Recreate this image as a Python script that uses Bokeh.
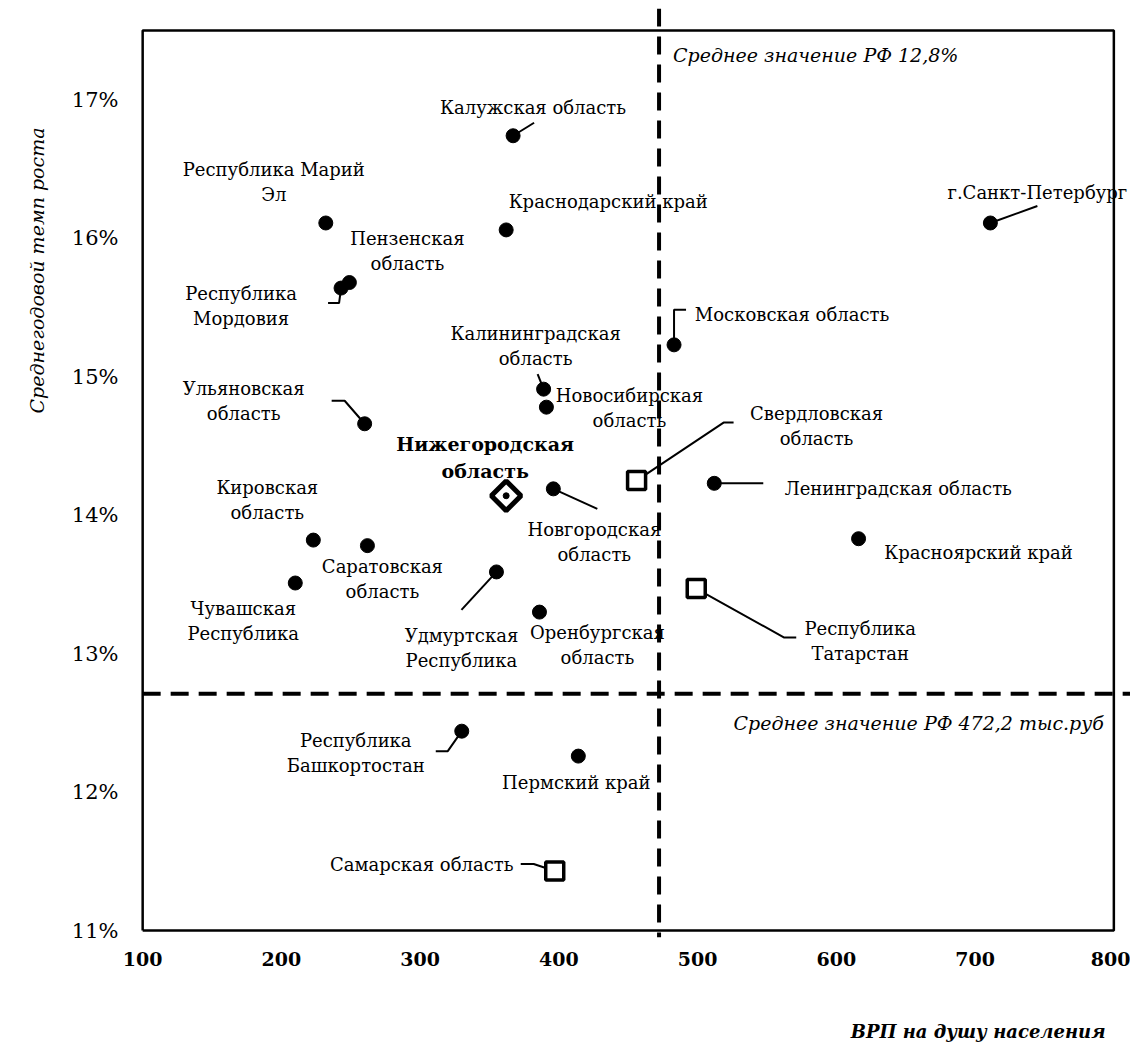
import numpy as np
from bokeh.plotting import figure
from bokeh.models import (ColumnDataSource, LabelSet, Label, Range1d, FixedTicker,
                          PrintfTickFormatter, Span, Title)
from bokeh.core.properties import value
from bokeh.embed import file_html
from bokeh.resources import INLINE

# ---------------- data ----------------
regions = [
    "Республика Марий Эл", "Пензенская область", "Республика Мордовия",
    "Калужская область", "Краснодарский край", "Московская область",
    "Калининградская область", "Новосибирская область", "Нижегородская область",
    "Новгородская область", "Свердловская область", "Ленинградская область",
    "Красноярский край", "Республика Татарстан", "Удмуртская Республика",
    "Оренбургская область", "Республика Башкортостан", "Пермский край",
    "Самарская область", "г.Санкт-Петербург", "Ульяновская область",
    "Кировская область", "Саратовская область", "Чувашская Республика",
]
label_text = [
    "Республика Марий\nЭл", "Пензенская\nобласть", "Республика\nМордовия",
    "Калужская область", "Краснодарский край", "Московская область",
    "Калининградская\nобласть", "Новосибирская\nобласть", "Нижегородская\nобласть",
    "Новгородская\nобласть", "Свердловская\nобласть", "Ленинградская область",
    "Красноярский край", "Республика\nТатарстан", "Удмуртская\nРеспублика",
    "Оренбургская\nобласть", "Республика\nБашкортостан", "Пермский край",
    "Самарская область", "г.Санкт-Петербург", "Ульяновская\nобласть",
    "Кировская\nобласть", "Саратовская\nобласть", "Чувашская\nРеспублика",
]
grp_per_capita = [232, 249, 243, 367, 362, 483, 389, 391, 362, 396, 456, 512,
                  616, 499, 355, 386, 330, 414, 397, 711, 260, 223, 262, 210]
growth_pct = [16.11, 15.68, 15.64, 16.74, 16.06, 15.23, 14.91, 14.78, 14.14,
              14.19, 14.25, 14.23, 13.83, 13.47, 13.59, 13.30, 12.44, 12.26,
              11.43, 16.11, 14.66, 13.82, 13.78, 13.51]
square_regions = ["Свердловская область", "Республика Татарстан", "Самарская область"]
focus_region = "Нижегородская область"

mean_grp = 472.2
mean_growth_line = 12.71
mean_grp_text = "Среднее значение РФ 12,8%"
mean_growth_text = "Среднее значение РФ 472,2 тыс.руб"

x_ticks = [100, 200, 300, 400, 500, 600, 700, 800]
y_ticks = [11, 12, 13, 14, 15, 16, 17]
x_title = "ВРП на душу населения"
y_title = "Среднегодовой темп роста"

# ---------------- layout (pixel offsets of labels / leader lines) ----------------
label_offset = {  # (dx, dy) of label block centre in pixels, dy positive = downwards
    "Республика Марий Эл": (-52, -41), "Пензенская область": (58, -32),
    "Республика Мордовия": (-100, 18), "Калужская область": (20, -28),
    "Краснодарский край": (102, -28), "Московская область": (118, -30),
    "Калининградская область": (-8, -43), "Новосибирская область": (83, 1),
    "Нижегородская область": (-21, -38), "Новгородская область": (41, 53),
    "Свердловская область": (180, -55), "Ленинградская область": (184, 5),
    "Красноярский край": (120, 14), "Республика Татарстан": (164, 52),
    "Удмуртская Республика": (-35, 76), "Оренбургская область": (58, 33),
    "Республика Башкортостан": (-106, 22), "Пермский край": (-2, 26),
    "Самарская область": (-133, -7), "г.Санкт-Петербург": (47, -30),
    "Ульяновская область": (-121, -23), "Кировская область": (-46, -40),
    "Саратовская область": (15, 33), "Чувашская Республика": (-52, 38),
}
leader_path = {  # polyline from marker, pixel offsets
    "Калужская область": [(21, -13)],
    "Московская область": [(0, -35), (12, -35)],
    "Калининградская область": [(-6, -15)],
    "Новгородская область": [(44, 20)],
    "Свердловская область": [(87, -58), (97, -58)],
    "Республика Татарстан": [(88, 49), (100, 49)],
    "Ленинградская область": [(49, 0)],
    "Удмуртская Республика": [(-35, 38)],
    "Республика Башкортостан": [(-14, 20), (-26, 20)],
    "Самарская область": [(-21, -7), (-34, -7)],
    "г.Санкт-Петербург": [(47, -17)],
    "Ульяновская область": [(-20, -23), (-33, -23)],
    "Республика Мордовия": [(-2, 15), (-13, 15)],
}

FONT = "DejaVu Serif"
X0, X1, Y0, Y1 = 97, 812, 10.95, 17.659
FW, FH = 992, 929
XPX = FW / (X1 - X0)
YPX = FH / (Y1 - Y0)

p = figure(frame_width=FW, frame_height=FH,
           x_range=Range1d(X0, X1), y_range=Range1d(Y0, Y1),
           output_backend="svg", toolbar_location=None,
           min_border_left=138, min_border_right=0, min_border_top=8,
           min_border_bottom=118,
           background_fill_color="white", border_fill_color="white")
p.outline_line_color = None
p.grid.visible = False

for ax in (p.xaxis[0], p.yaxis[0]):
    ax.axis_line_color = None
    ax.major_tick_line_color = None
    ax.minor_tick_line_color = None
    ax.major_tick_in = 0
    ax.major_tick_out = 0
    ax.major_label_text_font = FONT
    ax.major_label_text_color = "black"
p.xaxis.ticker = FixedTicker(ticks=x_ticks)
p.yaxis.ticker = FixedTicker(ticks=y_ticks)
p.yaxis.formatter = PrintfTickFormatter(format="%d%%")
p.xaxis.major_label_text_font_style = "bold"
p.xaxis.major_label_text_font_size = "19px"
p.yaxis.major_label_text_font_size = "21px"
p.xaxis.major_label_standoff = 14
p.yaxis.major_label_standoff = 20

# plot box
p.line([x_ticks[0], x_ticks[-1], x_ticks[-1], x_ticks[0], x_ticks[0]],
       [y_ticks[0], y_ticks[0], 17.5, 17.5, y_ticks[0]],
       line_color="black", line_width=2.5)

# mean lines
p.add_layout(Span(location=mean_grp, dimension="height", line_color="black",
                  line_width=4, line_dash="18 10"))
p.line([x_ticks[0], X1], [mean_growth_line, mean_growth_line], line_color="black",
       line_width=4, line_dash="18 10")

# leader lines
lx, ly = [], []
for name, x, y in zip(regions, grp_per_capita, growth_pct):
    if name in leader_path:
        lx.append([x] + [x + ox / XPX for ox, oy in leader_path[name]])
        ly.append([y] + [y - oy / YPX for ox, oy in leader_path[name]])
p.multi_line(lx, ly, line_color="black", line_width=2)

# markers
circ = [i for i, r in enumerate(regions) if r not in square_regions and r != focus_region]
sq = [i for i, r in enumerate(regions) if r in square_regions]
fc = [i for i, r in enumerate(regions) if r == focus_region]
p.scatter([grp_per_capita[i] for i in circ], [growth_pct[i] for i in circ],
          marker="circle", size=14, fill_color="black", line_color="black")
p.scatter([grp_per_capita[i] for i in sq], [growth_pct[i] for i in sq],
          marker="square", size=18, fill_color="white", line_color="black", line_width=3.5)
p.scatter([grp_per_capita[i] for i in fc], [growth_pct[i] for i in fc],
          marker="square", angle=np.pi / 4, size=21, fill_color="white",
          line_color="black", line_width=5)
p.scatter([grp_per_capita[i] for i in fc], [growth_pct[i] for i in fc],
          marker="circle", size=6, fill_color="black", line_color="black")


def label_rows(idx, gap):
    d = dict(x=[], y=[], t=[], dx=[], dy=[])
    for i in idx:
        lines = label_text[i].split("\n")
        cx, cy = label_offset[regions[i]]
        n = len(lines)
        for k, s in enumerate(lines):
            d["x"].append(grp_per_capita[i])
            d["y"].append(growth_pct[i])
            d["t"].append(s)
            d["dx"].append(cx)
            d["dy"].append(-(cy + (k - (n - 1) / 2) * gap))
    return ColumnDataSource(d)


norm = [i for i, r in enumerate(regions) if r != focus_region]
p.add_layout(LabelSet(x="x", y="y", text="t", x_offset="dx", y_offset="dy",
                      source=label_rows(norm, 25),
                      text_font=value(FONT), text_font_size="18px", text_align="center",
                      text_baseline="middle", text_color="black"))
p.add_layout(LabelSet(x="x", y="y", text="t", x_offset="dx", y_offset="dy",
                      source=label_rows(fc, 27),
                      text_font=value(FONT), text_font_size="19px", text_font_style="bold",
                      text_align="center", text_baseline="middle", text_color="black"))

# mean annotations
p.add_layout(Label(x=mean_grp, y=17.32, x_offset=14, text=mean_grp_text,
                   text_font=FONT, text_font_size="19px", text_font_style="italic",
                   text_color="black", text_baseline="middle", text_align="left"))
p.add_layout(Label(x=792.8, y=12.50, text=mean_growth_text,
                   text_font=FONT, text_font_size="19px", text_font_style="italic",
                   text_color="black", text_baseline="middle", text_align="right"))

# axis titles
p.add_layout(Title(text=y_title, align="right", offset=119, standoff=42,
                   text_font=FONT, text_font_size="19px", text_font_style="italic",
                   text_color="black"), "left")
p.add_layout(Title(text=x_title, align="right", offset=25, standoff=100,
                   text_font=FONT, text_font_size="18px", text_font_style="bold italic",
                   text_color="black"), "below")

open("out.html", "w").write(file_html(p, INLINE))
